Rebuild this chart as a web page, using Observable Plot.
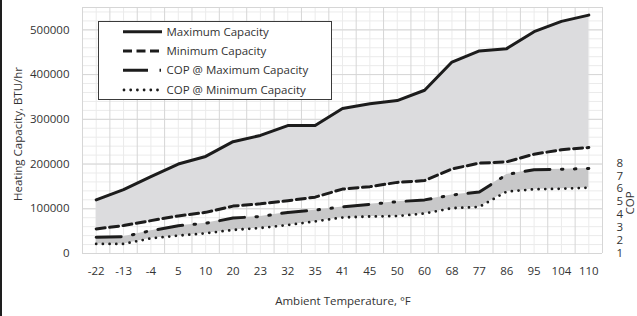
<!DOCTYPE html>
<html>
<head>
<meta charset="utf-8">
<script src="https://cdn.jsdelivr.net/npm/d3@7"></script>
<script src="https://cdn.jsdelivr.net/npm/@observablehq/plot@0.6"></script>
<style>
  html, body { margin: 0; padding: 0; background: #fff; }
  #wrap { position: relative; width: 637px; height: 316px; overflow: hidden; }
  #edge { position: absolute; left: 0; top: 0; width: 2px; height: 316px; background: #1e1e1e; }
</style>
</head>
<body>
<div id="wrap"><div id="edge"></div></div>
<script>
// ---- data ----
const categories = ["-22","-13","-4","5","10","20","23","32","35","41","45","50","60","68","77","86","95","104","110"];
const maxCapacity = [120000,143000,172000,200000,217000,250000,264000,286000,286000,324000,335000,342000,365000,428000,453000,458000,496000,519000,533000];
const minCapacity = [55000,62500,73500,84000,92000,106000,111000,118000,126000,144000,149500,159000,163000,189000,202000,205000,222000,232000,237000];
const copAtMax = [2.25,2.3,2.76,3.15,3.33,3.74,3.86,4.17,4.35,4.6,4.8,5.0,5.14,5.52,5.75,7.1,7.47,7.5,7.57];
const copAtMin = [1.74,1.74,2.17,2.38,2.56,2.82,2.97,3.2,3.48,3.78,3.86,3.89,4.09,4.5,4.6,5.78,5.96,6.0,6.08];
const capacityTicks = [0,100000,200000,300000,400000,500000];
const copTicks = [1,2,3,4,5,6,7,8];
const capacityMax = 550000;
const copAxisMin = 1, copAxisMax = 20;
const seriesNames = ["Maximum Capacity","Minimum Capacity","COP @ Maximum Capacity","COP @ Minimum Capacity"];
const titles = {y: "Heating Capacity, BTU/hr", y2: "COP", x: "Ambient Temperature, °F"};

// ---- helpers ----
const copToY = c => (c - copAxisMin) / (copAxisMax - copAxisMin) * capacityMax;
const yToCop = v => v / capacityMax * (copAxisMax - copAxisMin) + copAxisMin;
const idx = d3.range(categories.length);
const ink = "#1c1c1c";
const textColor = "#333";
const dashMax = "25,11.5,1.5,11.5,1.5,11.5";
const fontFamily = "'Open Sans', sans-serif";

const minorY = d3.range(0, capacityMax, 20000).concat([capacityMax]);
const majorX = d3.range(categories.length + 1).map(i => i - 0.5);

const plot = Plot.plot({
  width: 637,
  height: 316,
  marginLeft: 82,
  marginRight: 35,
  marginTop: 7,
  marginBottom: 63,
  style: {fontFamily, fontSize: "11.5px", color: textColor, background: "transparent"},
  x: {type: "linear", domain: [-0.5, categories.length - 0.5]},
  y: {domain: [0, capacityMax]},
  marks: [
    Plot.ruleY(minorY, {stroke: "#ebebeb", strokeWidth: 1}),
    Plot.ruleX(idx, {stroke: "#ebebeb", strokeWidth: 1}),
    Plot.ruleY(capacityTicks.concat([capacityMax]), {stroke: "#d6d6d6", strokeWidth: 1}),
    Plot.ruleX(majorX, {stroke: "#d6d6d6", strokeWidth: 1}),
    Plot.areaY(idx, {x: i => i, y1: i => minCapacity[i], y2: i => maxCapacity[i], fill: "#dcdcde"}),
    Plot.areaY(idx, {x: i => i, y1: i => copToY(copAtMin[i]), y2: i => copToY(copAtMax[i]), fill: "#c8c8c9"}),
    Plot.line(idx, {x: i => i, y: i => maxCapacity[i], stroke: ink, strokeWidth: 3, strokeLinejoin: "round"}),
    Plot.line(idx, {x: i => i, y: i => minCapacity[i], stroke: ink, strokeWidth: 3, strokeDasharray: "9,4.5", strokeLinejoin: "round"}),
    Plot.line(idx, {x: i => i, y: i => copToY(copAtMax[i]), stroke: ink, strokeWidth: 3, strokeDasharray: dashMax, strokeLinejoin: "round"}),
    Plot.line(idx, {x: i => i, y: i => copToY(copAtMin[i]), stroke: ink, strokeWidth: 2.8, strokeDasharray: "0,6.7", strokeLinecap: "round", strokeLinejoin: "round"}),
    Plot.axisX(idx, {tickSize: 0, tickPadding: 13, tickFormat: i => categories[i], label: null, fill: textColor}),
    Plot.axisY(capacityTicks, {anchor: "left", tickSize: 0, tickPadding: 13, tickFormat: "d", label: null, fill: textColor}),
    Plot.axisY(copTicks.map(copToY), {anchor: "right", tickSize: 0, tickPadding: 14, tickFormat: v => String(Math.round(yToCop(v))), label: null, fill: textColor})
  ]
});

document.getElementById("wrap").appendChild(plot);
const svg = d3.select(plot);

// ---- axis titles ----
const tg = svg.append("g").attr("font-family", fontFamily).attr("font-size", "11.5px")
  .attr("fill", textColor).attr("text-anchor", "middle");
tg.append("text").attr("transform", "translate(18,134) rotate(-90)").attr("dy", "0.35em").text(titles.y);
tg.append("text").attr("transform", "translate(630,203) rotate(-90)").attr("dy", "0.35em").text(titles.y2);
tg.append("text").attr("x", 343).attr("y", 301).attr("dy", "0.35em").text(titles.x);

// ---- legend ----
const lg = svg.append("g").attr("font-family", fontFamily).attr("font-size", "11.5px").attr("text-anchor", "start");
lg.append("rect").attr("x", 98.5).attr("y", 21.5).attr("width", 233).attr("height", 78)
  .attr("fill", "#fff").attr("stroke", "#3a3a3a").attr("stroke-width", 1);
const rows = [31.7, 51, 70.3, 90];
const styles = [
  {dash: null, cap: "butt", w: 3, x2: 162},
  {dash: "9,4.5", cap: "butt", w: 3, x2: 160},
  {dash: dashMax, cap: "butt", w: 3, x2: 162},
  {dash: "0,6.7", cap: "round", w: 2.8, x2: 161}
];
seriesNames.forEach((name, k) => {
  const s = styles[k];
  const ln = lg.append("line").attr("x1", k === 3 ? 124 : 123).attr("x2", s.x2)
    .attr("y1", rows[k]).attr("y2", rows[k])
    .attr("stroke", ink).attr("stroke-width", s.w).attr("stroke-linecap", s.cap);
  if (s.dash) ln.attr("stroke-dasharray", s.dash);
  lg.append("text").attr("x", 166.5).attr("y", rows[k]).attr("dy", "0.35em")
    .attr("fill", textColor).text(name);
});
</script>
</body>
</html>
